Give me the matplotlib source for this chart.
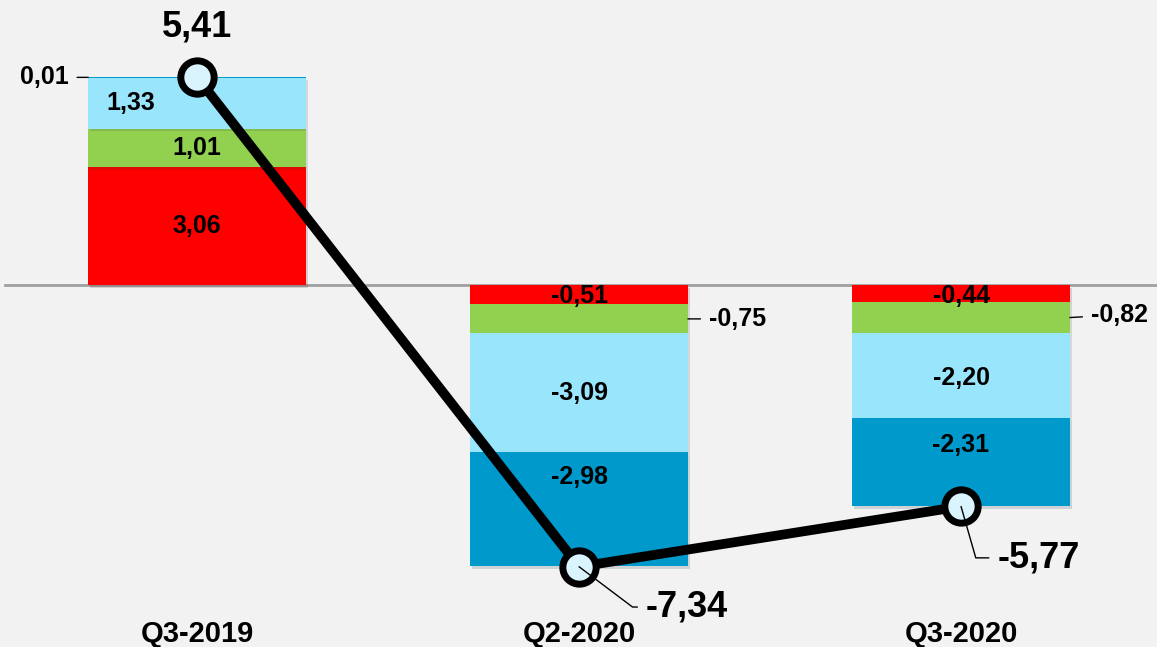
import numpy as np
import matplotlib.pyplot as plt
import matplotlib.patheffects as pe

# Data
categories = ["Q3-2019", "Q2-2020", "Q3-2020"]
red_vals = [3.06, -0.51, -0.44]
green_vals = [1.01, -0.75, -0.82]
lightblue_vals = [1.33, -3.09, -2.20]
darkblue_vals = [0.01, -2.98, -2.31]
totals = [5.41, -7.34, -5.77]

series = [red_vals, green_vals, lightblue_vals, darkblue_vals]
colors = ["#ff0000", "#92d050", "#99e5fc", "#0099cc"]

plt.rcParams['font.family'] = ['Liberation Sans', 'DejaVu Sans']
plt.rcParams['font.weight'] = 'bold'


def fmt(v):
    return f"{v:.2f}".replace(".", ",")


fig = plt.figure(figsize=(11.57, 6.47), dpi=100, facecolor="#f2f2f2")
ax = fig.add_axes([0, 0, 1, 1])
ax.set_facecolor("#f2f2f2")

x = np.arange(len(categories))
width = 0.57
ax.set_xlim(-0.516, 2.513)
ax.set_ylim(-9.43, 7.42)
ax.axis("off")

# zero line
ax.plot([-0.503, 2.6], [0, 0], color="#a0a0a0", lw=2, zorder=1)

# stacked bars (positives and negatives stacked separately)
pos_base = np.zeros(len(x))
neg_base = np.zeros(len(x))
segments = []
for vals, col in zip(series, colors):
    vals = np.array(vals)
    bottom = np.where(vals >= 0, pos_base, neg_base)
    bars = ax.bar(x, vals, width, bottom=bottom, color=col, zorder=2,
                  linewidth=0)
    for b in bars:
        b.set_path_effects([pe.SimplePatchShadow(offset=(1.5, -2), alpha=0.15),
                            pe.Normal()])
    segments.append(bottom + vals / 2)
    pos_base = pos_base + np.where(vals >= 0, vals, 0)
    neg_base = neg_base + np.where(vals < 0, vals, 0)

# segment labels (offsets in points)
inside_offsets = {(2, 0): (-48, 0), (3, 1): (0, 23), (3, 2): (0, 12),
                  (0, 1): (0, -1), (0, 2): (0, -2), (2, 2): (0, -2)}
outside = {(1, 1): (15, 0), (1, 2): (15, 2), (3, 0): (-14, 0)}
for si, vals in enumerate(series):
    for ci, v in enumerate(vals):
        cy = segments[si][ci]
        if (si, ci) in outside:
            dx, dy = outside[(si, ci)]
            if dx > 0:
                xy = (x[ci] + width / 2, cy)
                ha = "left"
            else:
                xy = (x[ci] - width / 2, cy)
                ha = "right"
            ax.annotate(fmt(v), xy=xy, xytext=(dx, dy),
                        textcoords="offset points", ha=ha, va="center",
                        fontsize=18, zorder=5,
                        arrowprops=dict(arrowstyle="-", lw=1, color="black",
                                        shrinkA=4, shrinkB=0))
        else:
            dx, dy = inside_offsets.get((si, ci), (0, 0))
            ax.annotate(fmt(v), xy=(x[ci], cy), xytext=(dx, dy),
                        textcoords="offset points", ha="center", va="center",
                        fontsize=18, zorder=5)

# total line
ax.plot(x, totals, color="black", lw=7, zorder=6, solid_capstyle="round")
ax.plot(x, totals, linestyle="none", marker="o", markersize=24,
        markerfacecolor="#d9f4fd", markeredgecolor="black",
        markeredgewidth=5, zorder=7)

# total labels
ax.annotate(fmt(totals[0]), xy=(x[0], totals[0]), xytext=(0, 36),
            textcoords="offset points", ha="center", va="center",
            fontsize=26, zorder=8)
for ci, (dx, dy, angb) in zip([1, 2], [(48, -29, -37), (26, -37, -74)]):
    ax.annotate(fmt(totals[ci]), xy=(x[ci], totals[ci]), xytext=(dx, dy),
                textcoords="offset points", ha="left", va="center",
                fontsize=26, zorder=8,
                arrowprops=dict(arrowstyle="-", lw=1, color="black",
                                shrinkA=4, shrinkB=0,
                                connectionstyle="angle,angleA=0,angleB=%d"
                                % angb))

# category labels
for ci, c in enumerate(categories):
    ax.text(x[ci], -9.1, c, ha="center", va="center", fontsize=21, zorder=5)

fig.savefig("out.png", dpi=100, facecolor=fig.get_facecolor())
